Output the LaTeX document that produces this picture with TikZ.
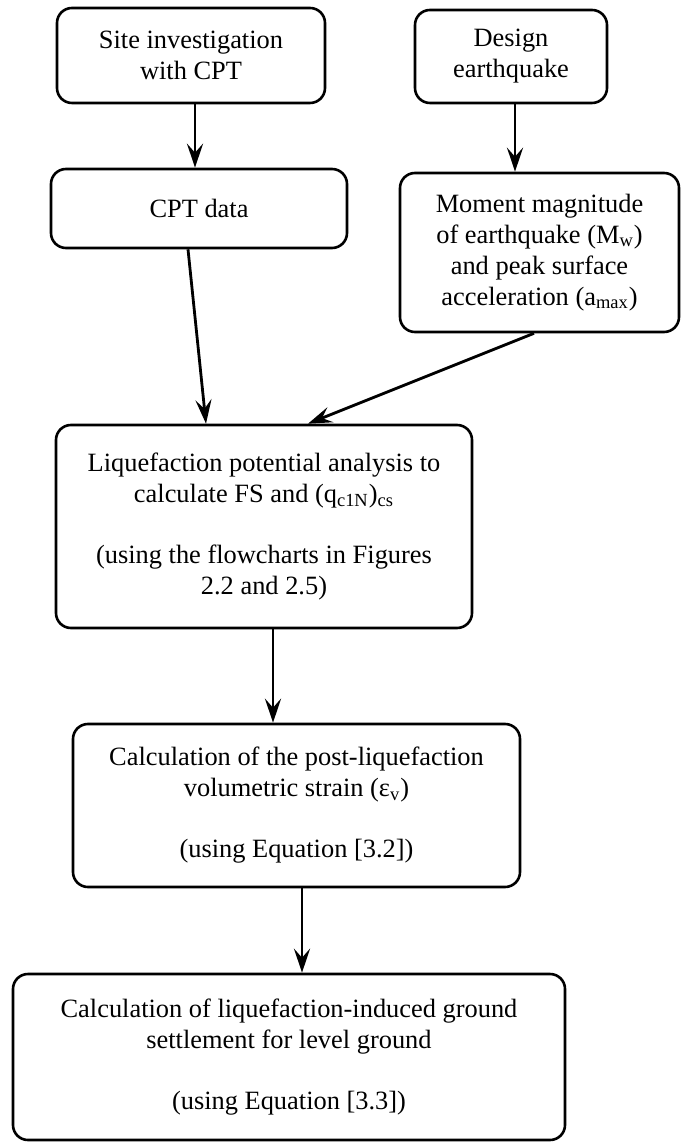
\documentclass[tikz,border=0pt]{standalone}
\usepackage{fontspec}
\setmainfont{Liberation Serif}
\usetikzlibrary{positioning, arrows.meta}

\begin{document}
\begin{tikzpicture}[x=0.5pt, y=-0.5pt,
  stepbox/.style={draw, line width=1.3pt, rounded corners=7.5pt, align=center,
    inner sep=0pt, font=\fontsize{13.2}{15.5}\selectfont},
  flow/.style={line width=1.4pt, -{Stealth[length=12pt, width=8pt, inset=4.5pt]}}]
\useasboundingbox (0,0) rectangle (681,1143);
% top row
\node[stepbox, minimum width=134pt, minimum height=47.5pt] (site) at (191,55.5) {Site investigation\\with CPT};
\node[stepbox, minimum width=96pt, minimum height=46.5pt] (quake) at (511,56.5) {Design\\earthquake};
% second row
\node[stepbox, minimum width=148pt, minimum height=39.5pt] (cptdata) at (199,208.5) {CPT data};
\node[stepbox, minimum width=139.5pt, minimum height=79.5pt] (moment) at (539.5,252.5) {Moment magnitude\\of earthquake (M\textsubscript{w})\\and peak surface\\acceleration (a\textsubscript{max})};
% main column
\node[stepbox, minimum width=208pt, minimum height=101.5pt] (liq) at (264,526.5) {Liquefaction potential analysis to\\calculate FS and (q\textsubscript{c1N})\textsubscript{cs}\\[15pt](using the flowcharts in Figures\\2.2 and 2.5)};
\node[stepbox, minimum width=223.5pt, minimum height=81.5pt] (strain) at (296.5,805.5) {Calculation of the post-liquefaction\\volumetric strain (ε\textsubscript{v})\\[15pt](using Equation [3.2])};
\node[stepbox, minimum width=276pt, minimum height=83pt] (settle) at (289,1057) {Calculation of liquefaction-induced ground\\settlement for level ground\\[15pt](using Equation [3.3])};
% connectors
\draw[flow] ([xshift=2pt]site.south) -- ([xshift=-2pt]cptdata.north);
\draw[flow] ([xshift=2pt]quake.south) -- ([xshift=-12.25pt]moment.north);
\draw[flow] ([xshift=-5.5pt]cptdata.south) -- ([xshift=-29pt]liq.north);
\draw[flow] ([xshift=-2.75pt]moment.south) -- ([xshift=22pt]liq.north);
\draw[flow] ([xshift=4.5pt]liq.south) -- ([xshift=-11.75pt]strain.north);
\draw[flow] ([xshift=2.75pt]strain.south) -- ([xshift=6.5pt]settle.north);
\end{tikzpicture}
\end{document}
